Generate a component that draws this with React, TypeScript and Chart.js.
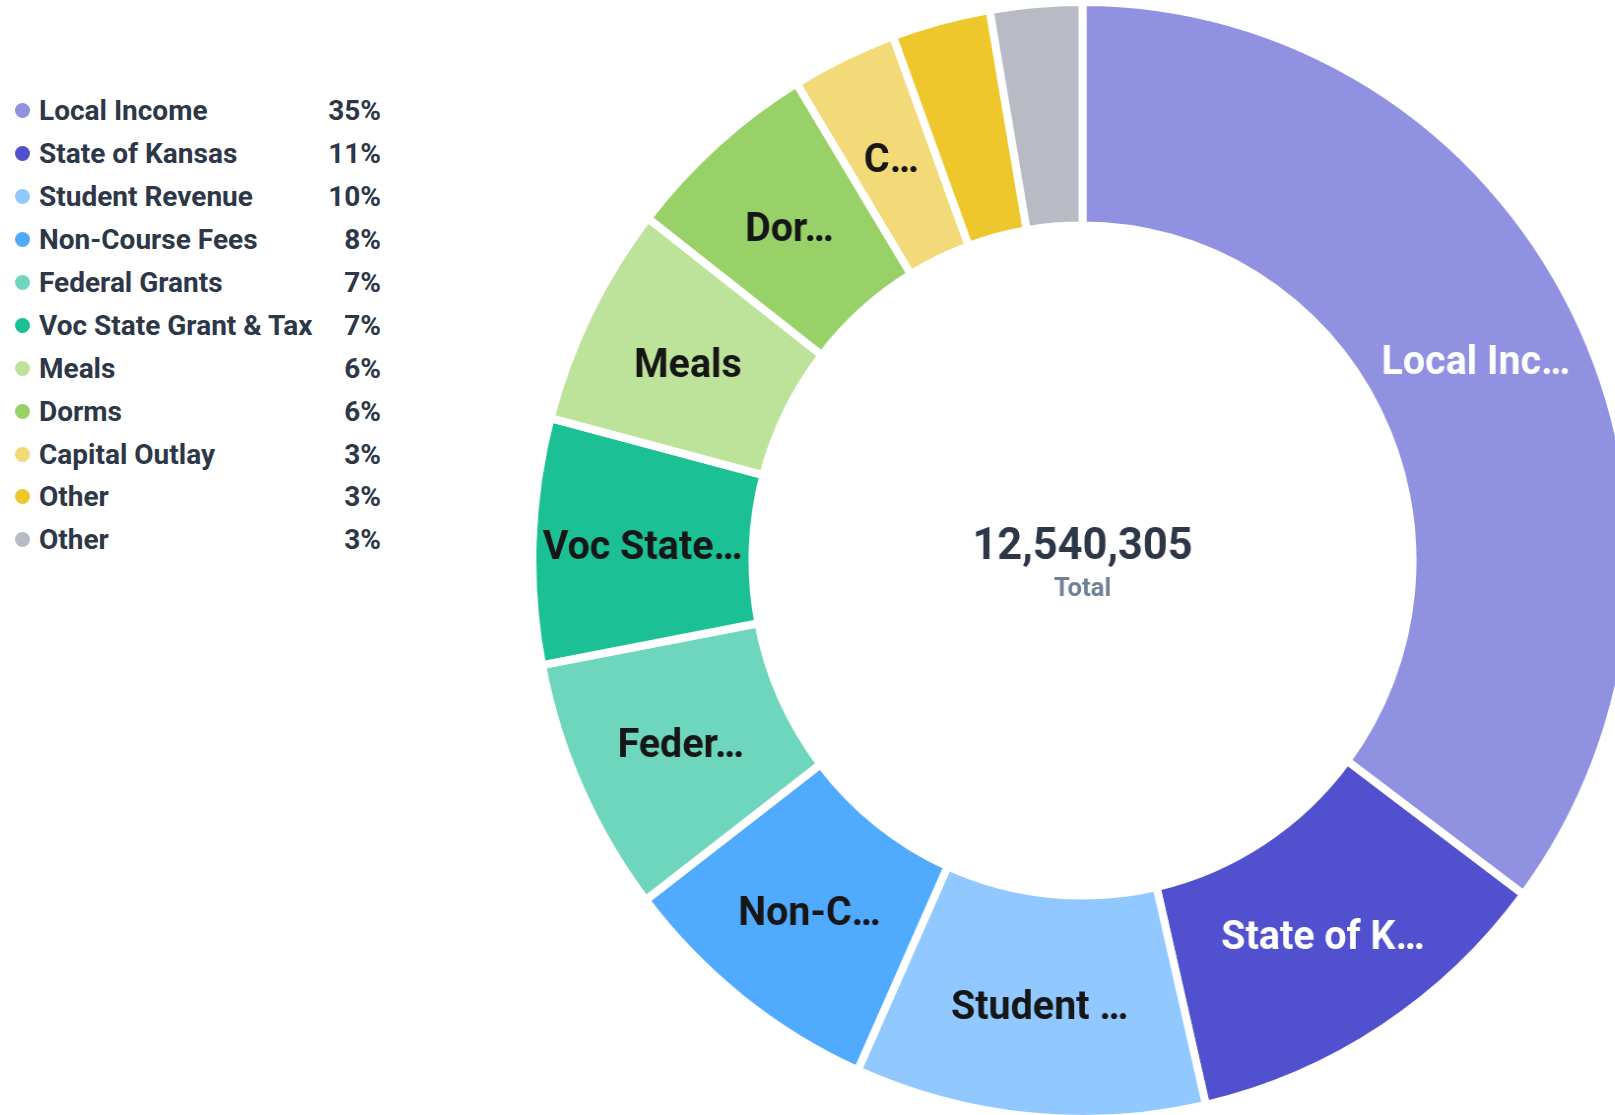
import React, { useEffect, useRef } from "react";
import { Chart, registerables } from "chart.js";

Chart.register(...registerables);

const categories = [
  "Local Income",
  "State of Kansas",
  "Student Revenue",
  "Non-Course Fees",
  "Federal Grants",
  "Voc State Grant & Tax",
  "Meals",
  "Dorms",
  "Capital Outlay",
  "Other",
  "Other",
];

const amounts = [
  4414190, 1404510, 1291650, 990680, 927980, 890360, 802580, 727340, 388750,
  363670, 338595,
];

const sliceLabels = [
  "Local Inc…",
  "State of K…",
  "Student …",
  "Non-C…",
  "Feder…",
  "Voc State…",
  "Meals",
  "Dor…",
  "C…",
  "",
  "",
];

const colors = [
  "#9191E1",
  "#5151CF",
  "#90C8FF",
  "#50ABFF",
  "#6FD6BE",
  "#1CC095",
  "#BDE39B",
  "#98D168",
  "#F3DA78",
  "#EEC72C",
  "#B8BAC4",
];

const sliceLabelColors = [
  "#ffffff",
  "#ffffff",
  "#161616",
  "#161616",
  "#161616",
  "#161616",
  "#161616",
  "#161616",
  "#161616",
  "#161616",
  "#161616",
];

const totalCaption = "Total";

const total = amounts.reduce((a, b) => a + b, 0);

const CANVAS_SIZE = 1125;
const CENTER_X = 1082;
const CENTER_Y = 560;

const sliceLabelPlugin = {
  id: "sliceLabels",
  afterDatasetsDraw(chart: any) {
    const ctx = chart.ctx;
    const meta = chart.getDatasetMeta(0);
    ctx.save();
    ctx.font = "700 40px Roboto";
    ctx.textAlign = "center";
    ctx.textBaseline = "middle";
    meta.data.forEach((arc: any, i: number) => {
      const text = sliceLabels[i];
      if (!text) return;
      const p = arc.tooltipPosition();
      ctx.fillStyle = sliceLabelColors[i];
      ctx.fillText(text, p.x, p.y + 4);
    });
    ctx.restore();
  },
};

const centerTextPlugin = {
  id: "centerText",
  afterDraw(chart: any) {
    const ctx = chart.ctx;
    const meta = chart.getDatasetMeta(0);
    const arc = meta.data[0];
    if (!arc) return;
    const cx = arc.x;
    const cy = arc.y;
    ctx.save();
    ctx.textAlign = "center";
    ctx.textBaseline = "middle";
    ctx.fillStyle = "#2D3748";
    ctx.font = "700 44px Roboto";
    ctx.fillText(total.toLocaleString("en-US"), cx, cy - 13);
    ctx.fillStyle = "#718096";
    ctx.font = "700 26px Roboto";
    ctx.fillText(totalCaption, cx, cy + 29);
    ctx.restore();
  },
};

export default function App() {
  const canvasRef = useRef<HTMLCanvasElement | null>(null);

  useEffect(() => {
    if (!canvasRef.current) return;
    const chart = new Chart(canvasRef.current, {
      type: "doughnut",
      data: {
        labels: categories,
        datasets: [
          {
            data: amounts,
            backgroundColor: colors,
            borderColor: "#ffffff",
            borderWidth: 8,
            hoverOffset: 0,
          },
        ],
      },
      options: {
        responsive: false,
        animation: false,
        cutout: "60%",
        rotation: 0,
        layout: { padding: 0 },
        plugins: {
          legend: { display: false },
          tooltip: { enabled: false },
        },
        events: [],
      },
      plugins: [sliceLabelPlugin, centerTextPlugin],
    });
    return () => chart.destroy();
  }, []);

  return (
    <div
      style={{
        position: "fixed",
        left: 0,
        top: 0,
        width: 1615,
        height: 1115,
        overflow: "hidden",
        background: "#ffffff",
        fontFamily: "Roboto, sans-serif",
      }}
    >
      <div
        style={{
          position: "absolute",
          left: 0,
          top: 89.5,
          width: 400,
        }}
      >
        {categories.map((c, i) => (
          <div
            key={i}
            style={{
              position: "relative",
              height: 42.9,
              display: "flex",
              alignItems: "center",
            }}
          >
            <span
              style={{
                position: "absolute",
                left: 14.5,
                width: 15,
                height: 15,
                borderRadius: "50%",
                background: colors[i],
              }}
            />
            <span
              style={{
                position: "absolute",
                left: 39,
                fontSize: 28,
                fontWeight: 700,
                color: "#2D3748",
                whiteSpace: "nowrap",
              }}
            >
              {c}
            </span>
            <span
              style={{
                position: "absolute",
                right: 400 - 381,
                fontSize: 28,
                fontWeight: 700,
                color: "#2D3748",
              }}
            >
              {Math.round((amounts[i] / total) * 100) + "%"}
            </span>
          </div>
        ))}
      </div>
      <canvas
        ref={canvasRef}
        width={CANVAS_SIZE}
        height={CANVAS_SIZE}
        style={{
          position: "absolute",
          left: CENTER_X - CANVAS_SIZE / 2,
          top: CENTER_Y - CANVAS_SIZE / 2,
          width: CANVAS_SIZE,
          height: CANVAS_SIZE,
          transform: "scaleX(0.985)",
          transformOrigin: "50% 50%",
        }}
      />
    </div>
  );
}
